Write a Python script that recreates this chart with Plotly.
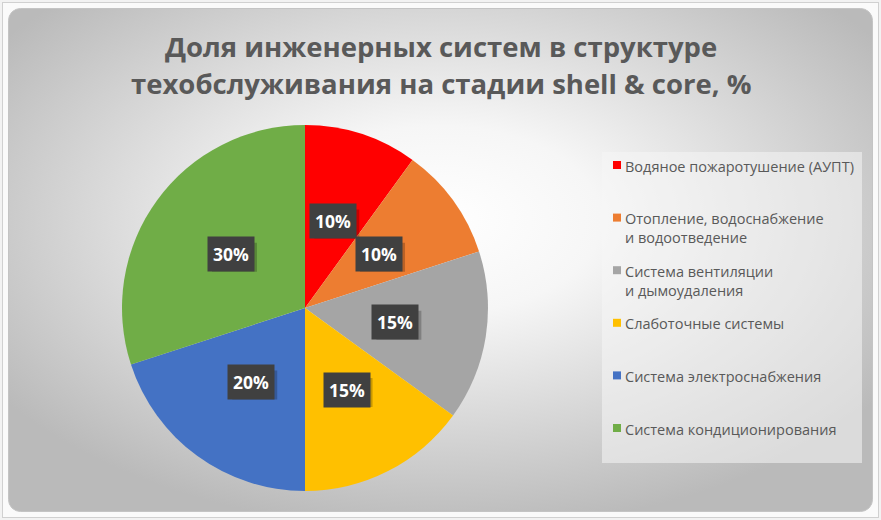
import base64, math
import plotly.graph_objects as go

W, H = 881, 520

labels = [
    "Водяное пожаротушение (АУПТ)",
    "Отопление, водоснабжение<br>и водоотведение",
    "Система вентиляции<br>и дымоудаления",
    "Слаботочные системы",
    "Система электроснабжения",
    "Система кондиционирования",
]
values = [10, 10, 15, 15, 20, 30]
colors = ["#FF0000", "#ED7D31", "#A5A5A5", "#FFC000", "#4472C4", "#70AD47"]
title_lines = ["Доля инженерных систем в структуре", "техобслуживания на стадии shell & core, %"]

svg = f'''<svg xmlns="http://www.w3.org/2000/svg" width="{W}" height="{H}" viewBox="0 0 {W} {H}">
<defs><radialGradient id="g" cx="50%" cy="42%" r="62%">
<stop offset="0" stop-color="#ffffff"/><stop offset="0.3" stop-color="#f6f6f6"/><stop offset="1" stop-color="#bababa"/></radialGradient></defs>
<rect x="0" y="0" width="{W}" height="{H}" fill="#f2f2f2"/>
<rect x="2.5" y="2.5" width="{W-5}" height="{H-5}" fill="#fafafa" stroke="#d0d0d0"/>
<rect x="8.5" y="8.5" width="{W-17}" height="{H-17}" rx="12" fill="url(#g)" stroke="#c4c4c4"/>
</svg>'''
src = "data:image/svg+xml;base64," + base64.b64encode(svg.encode()).decode()

# pie domain in pixels
px0, px1, py0, py1 = 122, 488, 125, 491
dom_x = [px0 / W, px1 / W]
dom_y = [1 - py1 / H, 1 - py0 / H]
cx, cy, R = (px0 + px1) / 2, (py0 + py1) / 2, (px1 - px0) / 2

fig = go.Figure()
fig.add_trace(go.Pie(
    labels=[l.replace("<br>", " ") for l in labels], values=values, sort=False,
    direction="clockwise", rotation=0,
    marker=dict(colors=colors, line=dict(width=0)), textinfo="none", hoverinfo="label+percent",
    domain=dict(x=dom_x, y=dom_y), showlegend=False,
))

def px(x):
    return x / W

def py(y):
    return 1 - y / H

annotations = []
shapes = [dict(type="rect", xref="paper", yref="paper", x0=px(602), x1=px(862),
               y0=py(463), y1=py(152), fillcolor="rgba(245,245,245,0.55)",
               line=dict(width=0), layer="below")]

# data labels
total = sum(values)
cum = 0
for v in values:
    mid = (cum + v / 2) / total * 2 * math.pi
    cum += v
    lx = cx + 0.5 * R * math.sin(mid)
    ly = cy - 0.5 * R * math.cos(mid)
    txt = f"{round(v / total * 100)}%"
    shapes.append(dict(type="rect", xref="paper", yref="paper",
                       x0=px(lx - 19), x1=px(lx + 26), y0=py(ly + 17.5), y1=py(ly - 11.5),
                       fillcolor="rgba(0,0,0,0.22)", line=dict(width=0), layer="above"))
    annotations.append(dict(x=px(lx), y=py(ly), xref="paper", yref="paper",
                            xanchor="center", yanchor="middle",
                            text=f"<b>{txt}</b>", showarrow=False, bgcolor="#404040",
                            borderpad=5, font=dict(size=17.5, color="#ffffff", family="Open Sans")))

# legend (built from labels / colors)
leg_y0, leg_step = 165, 52.6
for i, (lab, col) in enumerate(zip(labels, colors)):
    yc = leg_y0 + leg_step * i
    shapes.append(dict(type="rect", xref="paper", yref="paper",
                       x0=px(613), x1=px(621), y0=py(yc + 4), y1=py(yc - 4),
                       fillcolor=col, line=dict(width=0)))
    annotations.append(dict(x=px(623), y=py(yc - 10.5), xref="paper", yref="paper",
                            xanchor="left", yanchor="top", align="left", showarrow=False,
                            text=lab, font=dict(size=14.5, color="#595959", family="Open Sans")))

for i, t in enumerate(title_lines):
    annotations.append(dict(x=0.5, y=py(46 + 37 * i), xref="paper", yref="paper",
                            text=f"<b>{t}</b>", showarrow=False, xanchor="center", yanchor="middle",
                            font=dict(size=27.5, color="#595959", family="Open Sans")))

fig.update_layout(
    width=W, height=H, margin=dict(l=0, r=0, t=0, b=0),
    paper_bgcolor="white", plot_bgcolor="white",
    images=[dict(source=src, xref="paper", yref="paper", x=0, y=1, sizex=1, sizey=1,
                 xanchor="left", yanchor="top", sizing="stretch", layer="below")],
    shapes=shapes,
    annotations=annotations,
    showlegend=False,
)
fig.write_html("out.html")
